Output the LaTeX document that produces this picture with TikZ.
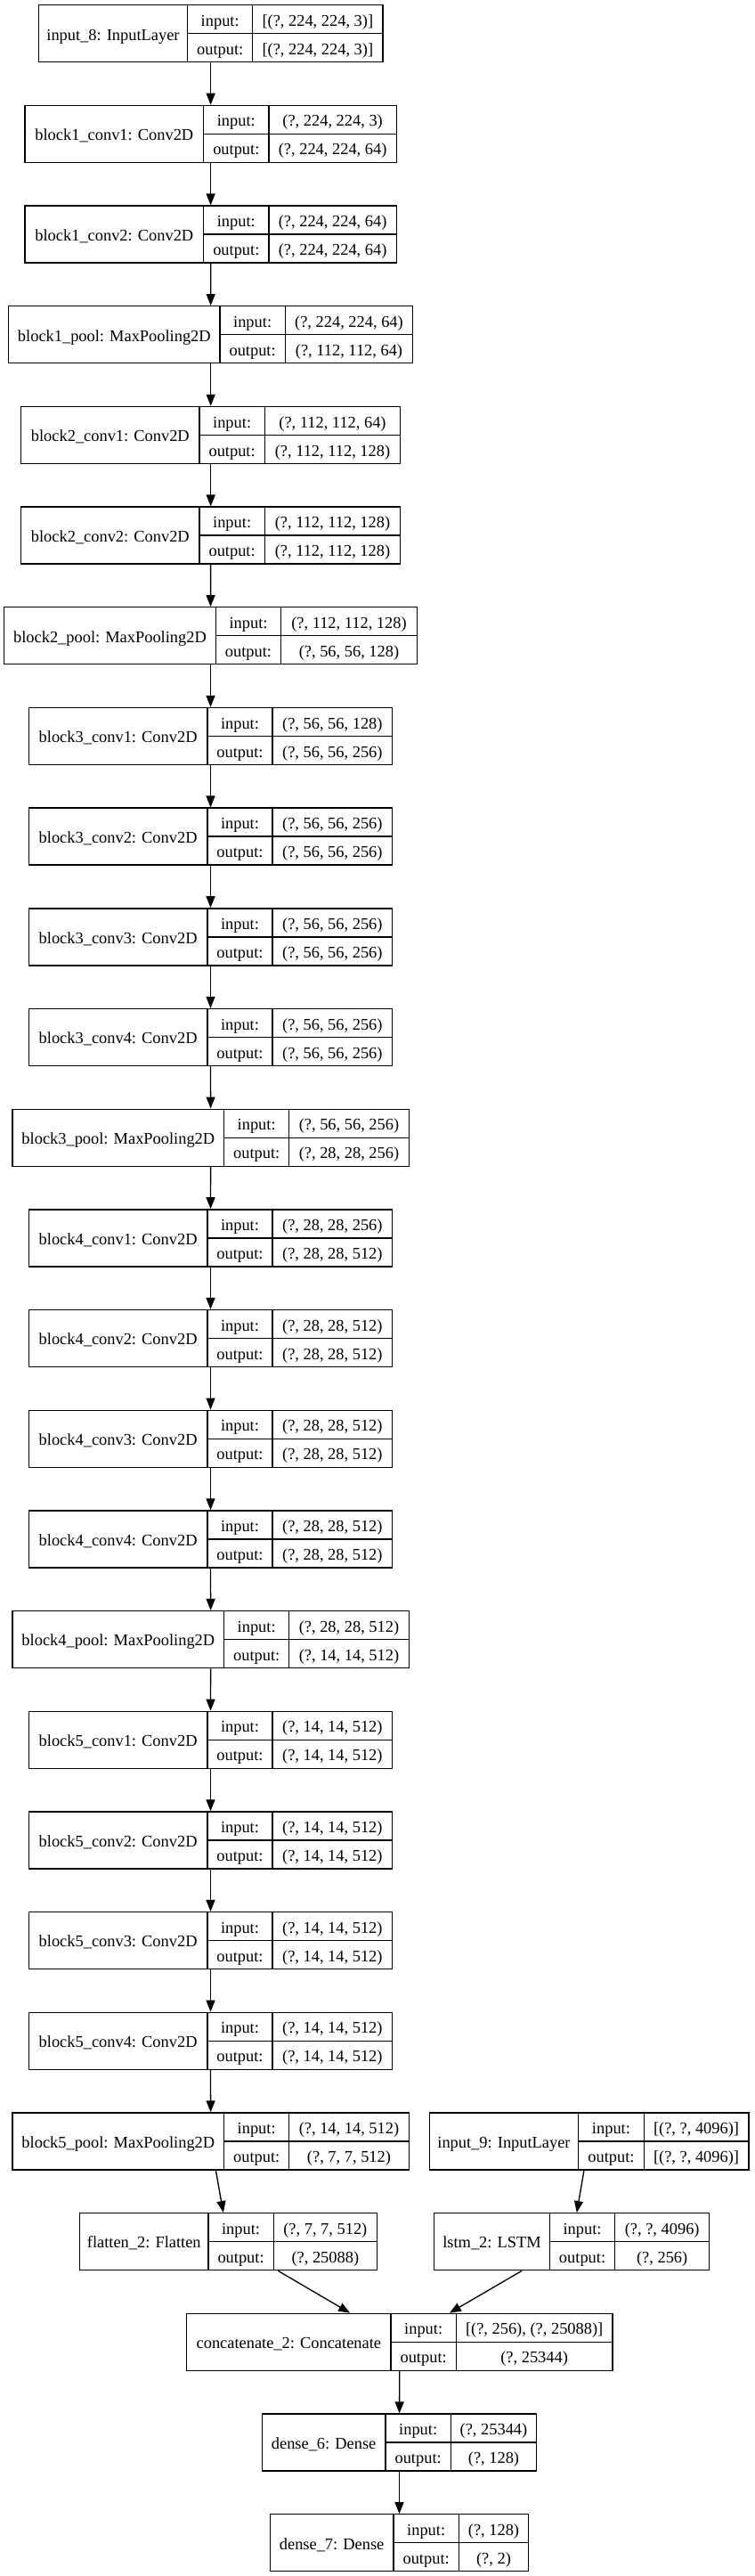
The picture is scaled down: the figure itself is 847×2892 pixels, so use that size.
\documentclass[tikz,border=0pt]{standalone}
\usepackage{fontspec}
\setmainfont{Liberation Serif}
\usetikzlibrary{arrows.meta}
\tikzset{
  kbox/.style={draw=black, line width=1pt, minimum height=48pt, inner sep=0pt},
  kline/.style={draw=black, line width=1pt},
  ktxt/.style={anchor=base, inner sep=0pt, font=\fontsize{13.8}{16}\selectfont},
  karr/.style={draw=black, line width=1pt, -{Triangle[length=9.75pt,width=7.5pt]}}
}
\newcommand{\klayer}[9]{%
  \pgfmathsetmacro{\ktop}{5.7+112.68*#2}%
  \pgfmathsetmacro{\kmid}{\ktop+32}%
  \pgfmathsetmacro{\kbot}{\ktop+64}%
  \pgfmathsetmacro{\kcx}{(#3+#6)/2}%
  \node[kbox, minimum width={(#6-#3)*0.75pt}] (#1) at (\kcx,\kmid) {};
  \draw[kline] (#4,\ktop) -- (#4,\kbot) (#5,\ktop) -- (#5,\kbot) (#4,\kmid) -- (#6,\kmid);
  \node[ktxt] (#1-name) at ({(#3+#4)/2},{\kmid+7.3}) {#7};
  \node[ktxt] (#1-il) at ({(#4+#5)/2},{\ktop+16+7.6}) {input:};
  \node[ktxt] (#1-ol) at ({(#4+#5)/2},{\ktop+48+7.6}) {output:};
  \node[ktxt] (#1-iv) at ({(#5+#6)/2},{\ktop+16+7.6}) {#8};
  \node[ktxt] (#1-ov) at ({(#5+#6)/2},{\ktop+48+7.6}) {#9};
}
\begin{document}
\begin{tikzpicture}[x=0.75pt,y=-0.75pt]
\fill[white] (0,0) rectangle (847,2892);
\useasboundingbox (0,0) rectangle (847,2892);
\klayer{n0}{0}{43.3}{210.7}{283.7}{430}{input\_8: InputLayer}{[(?, 224, 224, 3)]}{[(?, 224, 224, 3)]}
\klayer{n1}{1}{28}{228.7}{302}{445.3}{block1\_conv1: Conv2D}{(?, 224, 224, 3)}{(?, 224, 224, 64)}
\klayer{n2}{2}{28}{228.7}{302}{445.3}{block1\_conv2: Conv2D}{(?, 224, 224, 64)}{(?, 224, 224, 64)}
\klayer{n3}{3}{9.7}{247}{320.3}{463.7}{block1\_pool: MaxPooling2D}{(?, 224, 224, 64)}{(?, 112, 112, 64)}
\klayer{n4}{4}{23.7}{224}{297.3}{449.7}{block2\_conv1: Conv2D}{(?, 112, 112, 64)}{(?, 112, 112, 128)}
\klayer{n5}{5}{23.7}{224}{297.3}{449.7}{block2\_conv2: Conv2D}{(?, 112, 112, 128)}{(?, 112, 112, 128)}
\klayer{n6}{6}{4.7}{242.3}{315.7}{468.3}{block2\_pool: MaxPooling2D}{(?, 112, 112, 128)}{(?, 56, 56, 128)}
\klayer{n7}{7}{32.3}{233}{306}{440.7}{block3\_conv1: Conv2D}{(?, 56, 56, 128)}{(?, 56, 56, 256)}
\klayer{n8}{8}{32.3}{233}{306}{440.7}{block3\_conv2: Conv2D}{(?, 56, 56, 256)}{(?, 56, 56, 256)}
\klayer{n9}{9}{32.3}{233}{306}{440.7}{block3\_conv3: Conv2D}{(?, 56, 56, 256)}{(?, 56, 56, 256)}
\klayer{n10}{10}{32.3}{233}{306}{440.7}{block3\_conv4: Conv2D}{(?, 56, 56, 256)}{(?, 56, 56, 256)}
\klayer{n11}{11}{14}{251.7}{324.7}{459.3}{block3\_pool: MaxPooling2D}{(?, 56, 56, 256)}{(?, 28, 28, 256)}
\klayer{n12}{12}{32.3}{233}{306}{440.7}{block4\_conv1: Conv2D}{(?, 28, 28, 256)}{(?, 28, 28, 512)}
\klayer{n13}{13}{32.3}{233}{306}{440.7}{block4\_conv2: Conv2D}{(?, 28, 28, 512)}{(?, 28, 28, 512)}
\klayer{n14}{14}{32.3}{233}{306}{440.7}{block4\_conv3: Conv2D}{(?, 28, 28, 512)}{(?, 28, 28, 512)}
\klayer{n15}{15}{32.3}{233}{306}{440.7}{block4\_conv4: Conv2D}{(?, 28, 28, 512)}{(?, 28, 28, 512)}
\klayer{n16}{16}{14}{251.7}{324.7}{459.3}{block4\_pool: MaxPooling2D}{(?, 28, 28, 512)}{(?, 14, 14, 512)}
\klayer{n17}{17}{32.3}{233}{306}{440.7}{block5\_conv1: Conv2D}{(?, 14, 14, 512)}{(?, 14, 14, 512)}
\klayer{n18}{18}{32.3}{233}{306}{440.7}{block5\_conv2: Conv2D}{(?, 14, 14, 512)}{(?, 14, 14, 512)}
\klayer{n19}{19}{32.3}{233}{306}{440.7}{block5\_conv3: Conv2D}{(?, 14, 14, 512)}{(?, 14, 14, 512)}
\klayer{n20}{20}{32.3}{233}{306}{440.7}{block5\_conv4: Conv2D}{(?, 14, 14, 512)}{(?, 14, 14, 512)}
\klayer{n21}{21}{14}{251.7}{324.7}{459.3}{block5\_pool: MaxPooling2D}{(?, 14, 14, 512)}{(?, 7, 7, 512)}
\klayer{in9}{21}{482.3}{649.7}{723.2}{840.9}{input\_9: InputLayer}{[(?, ?, 4096)]}{[(?, ?, 4096)]}
\klayer{fl}{22}{89.7}{233.9}{307.3}{423.4}{flatten\_2: Flatten}{(?, 7, 7, 512)}{(?, 25088)}
\klayer{lstm}{22}{487.7}{617.3}{690.8}{796.6}{lstm\_2: LSTM}{(?, ?, 4096)}{(?, 256)}
\klayer{cat}{23}{209.7}{439}{512.3}{688}{concatenate\_2: Concatenate}{[(?, 256), (?, 25088)]}{(?, 25344)}
\klayer{d6}{24}{294.3}{433}{506.3}{602.7}{dense\_6: Dense}{(?, 25344)}{(?, 128)}
\klayer{d7}{25}{303.3}{442}{515.3}{593.7}{dense\_7: Dense}{(?, 128)}{(?, 2)}
\foreach \a/\b in {n0/n1,n1/n2,n2/n3,n3/n4,n4/n5,n5/n6,n6/n7,n7/n8,n8/n9,n9/n10,n10/n11,n11/n12,n12/n13,n13/n14,n14/n15,n15/n16,n16/n17,n17/n18,n18/n19,n19/n20,n20/n21,n21/fl,in9/lstm,fl/cat,lstm/cat,cat/d6,d6/d7}
  \draw[karr] (\a) -- (\b);
\end{tikzpicture}
\end{document}
